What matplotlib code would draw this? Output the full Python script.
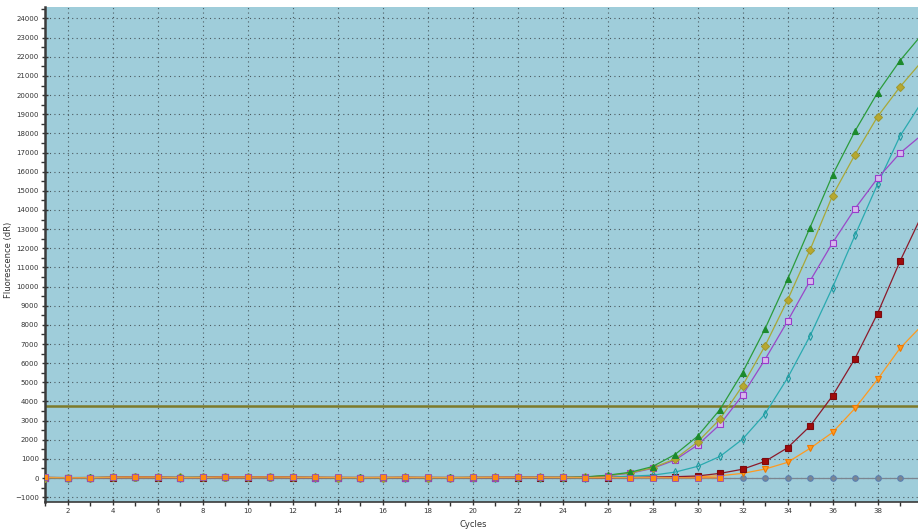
import matplotlib
matplotlib.use("Agg")
import matplotlib.pyplot as plt
from matplotlib.ticker import MultipleLocator, FixedLocator

cycles = list(range(1, 41))

green_tri = [30, 25, 30, 40, 45, 40, 35, 40, 45, 40, 45, 40, 35, 30, 30, 30, 35, 30, 30, 35,
             35, 40, 40, 40, 60, 150, 300, 600, 1230, 2180, 3580, 5510, 7790, 10370, 13080,
             15820, 18120, 20120, 21800, 23200]
olive_dia = [25, 20, 25, 35, 40, 35, 30, 35, 40, 35, 40, 35, 30, 25, 25, 25, 30, 25, 25, 30,
             30, 35, 35, 35, 50, 130, 270, 530, 1000, 1880, 3080, 4820, 6900, 9290, 11910,
             14750, 16890, 18870, 20430, 21800]
purple_sq = [20, 15, 20, 30, 35, 30, 25, 30, 35, 30, 35, 30, 25, 20, 20, 20, 25, 20, 20, 25,
             25, 30, 30, 30, 40, 120, 250, 505, 940, 1720, 2800, 4330, 6190, 8190, 10290,
             12280, 14070, 15650, 16970, 17950]
teal_dia = [20, 15, 20, 30, 35, 30, 25, 30, 35, 30, 35, 30, 25, 20, 20, 20, 25, 20, 20, 25,
            25, 25, 25, 20, 20, 50, 100, 150, 310, 610, 1130, 2030, 3350, 5220, 7420,
            9950, 12680, 15340, 17860, 19700]
maroon_sq = [15, 10, 15, 25, 30, 25, 20, 25, 30, 25, 30, 25, 20, 15, 15, 15, 20, 15, 15, 20,
             20, 20, 20, 20, 20, 20, 30, 50, 70, 110, 245, 460, 870, 1580, 2710,
             4290, 6240, 8590, 11320, 13800]
orange_tri = [10, 5, 10, 20, 25, 20, 15, 20, 25, 20, 25, 20, 15, 10, 10, 10, 15, 10, 10, 15,
              15, 15, 15, 15, 15, 20, 30, 40, 60, 70, 120, 245, 470, 820, 1550,
              2380, 3640, 5150, 6780, 8000]
orange_sq = [30, 15, 20, 40, 50, 45, 25, 30, 55, 45, 55, 40, 35, 30, 25, 30, 35, 30, 25, 30,
             40, 40, 35, 30, 25, 30, 20, 20, 15, 15, 15]
gray_circ = [0] * 40

threshold = 3760

series = [
    (gray_circ, "#7c8590", "#5b7fb0", "o", "#7c8590"),
    (orange_tri, "#ff9a1f", "#f07800", "v", "#ff9a1f"),
    (maroon_sq, "#8c1a2a", "#7a0a10", "s", "#a00a0a"),
    (teal_dia, "#2aaab0", "#1f9aa0", "d", "none"),
    (purple_sq, "#9a48c8", "#9a3ccc", "s", "#d8b8ee"),
    (olive_dia, "#a8a838", "#a09a30", "D", "#b8a830"),
    (green_tri, "#2c9c3c", "#1c8a2c", "^", "#1c8a2c"),
]

fig = plt.figure(figsize=(9.18, 5.29), dpi=100)
ax = fig.add_axes([45 / 918, 27 / 529, 873 / 918, (529 - 7 - 27) / 529])
ax.set_facecolor("#9fcdda")

for vals, lc, ec, mk, fc in series:
    ms = 3.6 if mk in ("D", "d") else 4.0
    ax.plot(cycles[:len(vals)], vals, color=lc, lw=0.9, marker=mk, ms=ms,
            mec=ec, mfc=fc, mew=0.8, zorder=3)

ax.plot(cycles[:len(orange_sq)], orange_sq, color="#e8a040", lw=0.9, marker="s", ms=4.2,
        mec="#9a50b0", mfc="#ff8a10", mew=0.6, zorder=4)
ax.plot(cycles[:len(orange_sq)], [v + 10 for v in orange_sq], color="#d83040", lw=0.8, zorder=3)

ax.axhline(threshold, color="#7d7a2a", lw=1.8, zorder=2)

ax.set_xlim(1, 39.8)
ax.set_ylim(-1250, 24600)

ax.xaxis.set_major_locator(FixedLocator(list(range(2, 39, 2))))
ax.xaxis.set_minor_locator(MultipleLocator(1))
ax.yaxis.set_major_locator(MultipleLocator(1000))
ax.yaxis.set_minor_locator(MultipleLocator(500))

ax.grid(True, which="major", color="#4a5a60", linestyle=(0, (1, 3)), lw=0.8)

for side in ("top", "right"):
    ax.spines[side].set_visible(False)
ax.spines["left"].set_linewidth(1.8)
ax.spines["left"].set_color("#3a3a3a")
ax.spines["bottom"].set_linewidth(1.2)
ax.spines["bottom"].set_color("#3a3a3a")

ax.tick_params(axis="both", which="major", labelsize=5, colors="#333333",
               direction="inout", length=5, width=1.0, pad=2)
ax.tick_params(axis="both", which="minor", direction="out", length=3, width=1.0,
               colors="#333333")

ax.set_xlabel("Cycles", fontsize=6, color="#333333")
ax.set_ylabel("Fluorescence (dR)", fontsize=6, color="#333333")
ax.yaxis.set_label_coords(-0.037, 0.49)
ax.xaxis.set_label_coords(0.49, -0.036)

fig.savefig("out.png", dpi=100, facecolor="white")
